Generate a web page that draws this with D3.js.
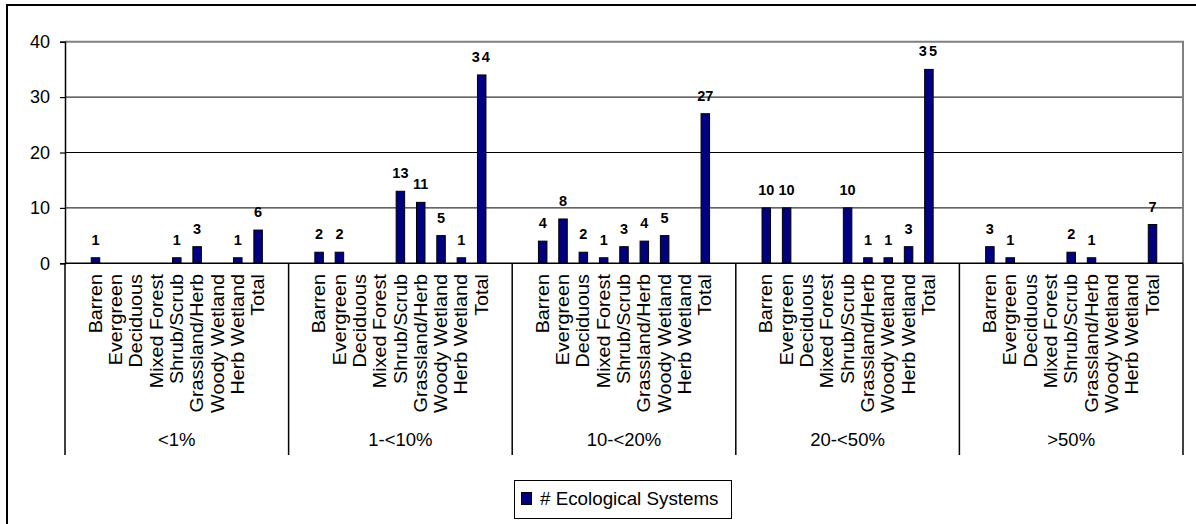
<!DOCTYPE html>
<html>
<head>
<meta charset="utf-8">
<script src="https://cdn.jsdelivr.net/npm/d3@7"></script>
<style>
  html, body { margin: 0; padding: 0; background: #fff; }
  svg { display: block; font-family: "Liberation Sans", Arial, sans-serif; }
</style>
</head>
<body>
<svg id="chart" width="1196" height="524"></svg>
<script>
// ---- data ----
const groups = ["<1%", "1-<10%", "10-<20%", "20-<50%", ">50%"];
const categories = ["Barren", "Evergreen", "Deciduous", "Mixed Forest", "Shrub/Scrub",
                    "Grassland/Herb", "Woody Wetland", "Herb Wetland", "Total"];
const valuesLt1    = [1, 0, 0, 0, 1, 3, 0, 1, 6];
const values1to10  = [2, 2, 0, 0, 13, 11, 5, 1, 34];
const values10to20 = [4, 8, 2, 1, 3, 4, 5, 0, 27];
const values20to50 = [10, 10, 0, 0, 10, 1, 1, 3, 35];
const valuesGt50   = [3, 1, 0, 0, 2, 1, 0, 0, 7];
const seriesValues = [valuesLt1, values1to10, values10to20, values20to50, valuesGt50];
const yTicks = [0, 10, 20, 30, 40];
const seriesName = "# Ecological Systems";

// ---- layout ----
const svg = d3.select("#chart");
const plot = { left: 65, right: 1183, top: 41.7, bottom: 263.3 };
const navy = "#000080";

const y = d3.scaleLinear().domain([0, 40]).range([plot.bottom, plot.top]);
const xGroup = d3.scaleBand().domain(groups).range([plot.left, plot.right]).padding(0);
const xCat = d3.scaleBand().domain(categories).range([0, xGroup.bandwidth()])
  .paddingInner(0).paddingOuter(1);
const barW = 8.5;

// outer frame
svg.append("rect").attr("x", 7).attr("y", 5).attr("width", 1200).attr("height", 530)
  .attr("fill", "none").attr("stroke", "#000").attr("stroke-width", 2);

// gridlines
svg.append("g").selectAll("line").data(yTicks.filter(d => d > 0 && d < 40)).join("line")
  .attr("x1", plot.left).attr("x2", plot.right)
  .attr("y1", d => y(d)).attr("y2", d => y(d))
  .attr("stroke", "#000").attr("stroke-width", 1);

// plot border top/right (gray)
svg.append("path")
  .attr("d", `M${plot.left},${y(40)}H${plot.right}V${plot.bottom}`)
  .attr("fill", "none").attr("stroke", "#808080").attr("stroke-width", 2);

// y axis
const yAxis = d3.axisLeft(y).tickValues(yTicks).tickSize(5).tickPadding(10);
const gy = svg.append("g").attr("transform", `translate(${plot.left},0)`).call(yAxis);
gy.select(".domain").attr("stroke", "#000").attr("stroke-width", 1.5);
gy.selectAll(".tick line").attr("stroke", "#000").attr("stroke-width", 1.2);
gy.selectAll(".tick text").attr("font-size", 18).attr("fill", "#000")
  .attr("font-family", "'Liberation Sans', Arial, sans-serif");

// bars
const data = [];
groups.forEach((g, gi) => categories.forEach((c, ci) => {
  data.push({ group: g, cat: c, value: seriesValues[gi][ci] });
}));
const cx = d => xGroup(d.group) + xCat(d.cat) + xCat.bandwidth() / 2;

svg.append("g").selectAll("rect").data(data.filter(d => d.value > 0)).join("rect")
  .attr("x", d => cx(d) - barW / 2)
  .attr("y", d => y(d.value))
  .attr("width", barW)
  .attr("height", d => y(0) - y(d.value))
  .attr("fill", navy).attr("stroke", "#000").attr("stroke-width", 1);

// value labels
svg.append("g").selectAll("text").data(data.filter(d => d.value > 0)).join("text")
  .attr("x", d => cx(d))
  .attr("y", d => y(d.value) - 13)
  .attr("text-anchor", "middle")
  .attr("font-size", 14.5).attr("font-weight", "bold")
  .attr("letter-spacing", d => d.value >= 30 ? 2 : 0)
  .text(d => d.value);

// category axis baseline
svg.append("line").attr("x1", plot.left).attr("x2", plot.right)
  .attr("y1", y(0)).attr("y2", y(0)).attr("stroke", "#000").attr("stroke-width", 1.5);

// group separators
const bounds = groups.map(g => xGroup(g)).concat([plot.right]);
svg.append("g").selectAll("line").data(bounds).join("line")
  .attr("x1", d => d).attr("x2", d => d)
  .attr("y1", y(0)).attr("y2", 455)
  .attr("stroke", "#000").attr("stroke-width", 1.5);

// rotated category labels
svg.append("g").selectAll("text").data(data).join("text")
  .attr("transform", d => `translate(${cx(d)},274) rotate(-90) scale(1.07,1)`)
  .attr("text-anchor", "end")
  .attr("dy", "0.33em")
  .attr("font-size", 18.5)
  .text(d => d.cat);

// group labels
svg.append("g").selectAll("text").data(groups).join("text")
  .attr("x", d => xGroup(d) + xGroup.bandwidth() / 2)
  .attr("y", 446)
  .attr("text-anchor", "middle")
  .attr("font-size", 18.5)
  .text(d => d);

// legend
const lg = svg.append("g");
lg.append("rect").attr("x", 514.5).attr("y", 480.5).attr("width", 217).attr("height", 38)
  .attr("fill", "#fff").attr("stroke", "#000").attr("stroke-width", 1);
lg.append("rect").attr("x", 521.5).attr("y", 492.5).attr("width", 10).attr("height", 12)
  .attr("fill", navy).attr("stroke", "#000").attr("stroke-width", 1);
lg.append("text").attr("x", 540).attr("y", 504.5).attr("font-size", 18.8).text(seriesName);
</script>
</body>
</html>
